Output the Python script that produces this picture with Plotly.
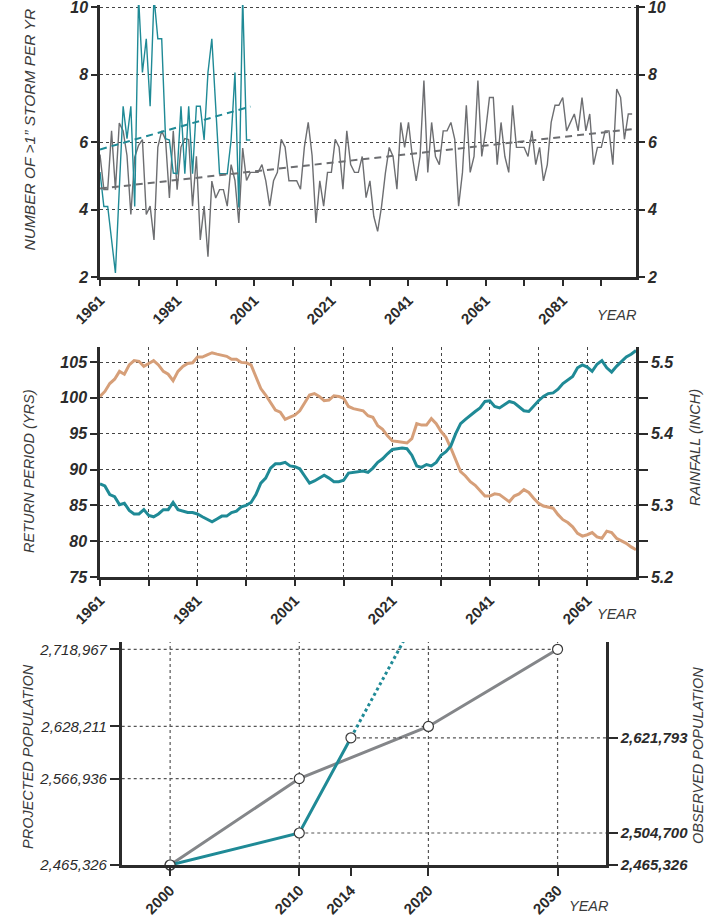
import plotly.graph_objects as go

# ---------------- DATA ----------------
# Panel 1: number of >1" storms per year
storm_obs_start = 1961
storm_obs = [5.11, 4.09, 4.09, 3.10, 2.12, 4.60, 7.06, 6.10, 7.06, 4.09,
             10.3, 8.06, 9.06, 7.06, 10.3, 9.06, 9.06, 6.10, 6.06, 5.08,
             5.06, 7.06, 5.06, 7.06, 5.06, 7.06, 7.06, 6.06, 8.06, 9.06,
             7.06, 5.06, 5.06, 5.06, 6.06, 8.06, 4.06, 10.3, 6.06, 6.06]
storm_model_start = 1961
storm_model = [5.63, 4.59, 4.59, 6.33, 4.59, 6.56, 6.33, 5.60, 3.85, 5.55,
               5.90, 6.07, 3.85, 4.10, 3.10, 5.85, 6.33, 6.07, 4.34, 6.33,
               4.59, 5.85, 6.10, 6.07, 4.10, 5.58, 3.10, 4.10, 2.60, 4.84,
               4.34, 4.59, 4.59, 4.10, 5.33, 4.86, 3.60, 5.82, 4.86, 5.10,
               5.10, 5.10, 5.33, 4.85, 4.10, 4.85, 5.10, 6.08, 5.85, 4.85,
               4.85, 4.85, 4.60, 5.85, 6.58, 5.60, 3.60, 4.85, 4.10, 5.10,
               5.10, 6.08, 5.85, 4.60, 6.33, 5.33, 5.10, 5.10, 5.57, 4.35,
               4.85, 3.80, 3.35, 4.08, 5.07, 5.84, 5.57, 4.60, 6.58, 5.84,
               6.58, 5.57, 4.85, 5.57, 7.82, 5.10, 6.58, 5.57, 5.33, 6.33,
               6.33, 6.58, 6.08, 4.10, 5.10, 7.09, 5.10, 5.57, 7.82, 5.57,
               6.33, 7.32, 7.32, 5.33, 6.58, 5.57, 5.10, 7.09, 5.84, 5.84,
               5.84, 5.57, 6.33, 5.33, 5.84, 4.85, 5.33, 6.58, 7.09, 7.09,
               7.32, 6.33, 6.58, 6.83, 6.33, 7.32, 6.33, 6.83, 5.33, 5.84,
               5.84, 6.33, 6.33, 5.33, 7.57, 7.32, 6.08, 6.83, 6.83]
storm_obs_trend_years = [1961, 2000]
storm_obs_trend = [5.78, 7.05]
storm_model_trend_years = [1961, 2099]
storm_model_trend = [4.62, 6.38]
storm_ticks = [2, 4, 6, 8, 10]

# Panel 2: return period (yrs) and rainfall (inch)
rp_start = 1961
return_period = [100.2, 100.9, 102.0, 102.6, 103.7, 103.3, 104.6, 105.2, 105.1, 104.4,
                 104.8, 105.2, 104.6, 103.7, 103.3, 102.4, 103.7, 104.4, 104.8, 104.9,
                 105.7, 105.7, 106.0, 106.3, 106.1, 105.9, 105.8, 105.4, 105.4, 104.95,
                 104.9, 104.6, 103.0, 101.3, 100.4, 99.3, 98.3, 98.0, 97.0, 97.3,
                 97.6, 98.2, 99.35, 100.4, 100.6, 100.2, 99.6, 99.7, 100.3, 100.2,
                 99.95, 98.8, 98.5, 98.3, 98.2, 97.5, 97.3, 96.1, 95.6, 94.7,
                 94.0, 93.9, 93.8, 93.7, 94.3, 96.4, 96.2, 96.2, 97.1, 96.4,
                 95.3, 94.5, 93.0, 91.4, 89.7, 89.1, 88.3, 87.8, 87.1, 86.3,
                 86.3, 86.6, 86.5, 86.0, 85.5, 86.3, 86.6, 87.2, 86.8, 86.0,
                 85.3, 84.9, 84.8, 84.6, 83.7, 83.0, 82.6, 82.0, 81.1, 80.7,
                 80.9, 81.2, 80.6, 80.4, 81.4, 81.2, 80.4, 80.1, 79.7, 79.2,
                 78.8]
rainfall = [5.330, 5.327, 5.315, 5.312, 5.301, 5.303, 5.293, 5.288, 5.288, 5.294,
            5.286, 5.284, 5.288, 5.294, 5.294, 5.304, 5.294, 5.292, 5.290, 5.290,
            5.288, 5.284, 5.281, 5.277, 5.281, 5.285, 5.285, 5.290, 5.292, 5.298,
            5.300, 5.304, 5.315, 5.331, 5.338, 5.352, 5.358, 5.358, 5.360, 5.355,
            5.354, 5.351, 5.341, 5.331, 5.334, 5.338, 5.342, 5.338, 5.333, 5.333,
            5.335, 5.345, 5.346, 5.348, 5.348, 5.346, 5.352, 5.360, 5.365, 5.372,
            5.378, 5.379, 5.380, 5.379, 5.370, 5.355, 5.353, 5.357, 5.355, 5.360,
            5.370, 5.375, 5.383, 5.400, 5.414, 5.420, 5.426, 5.431, 5.436, 5.445,
            5.446, 5.438, 5.436, 5.440, 5.445, 5.443, 5.437, 5.432, 5.431, 5.439,
            5.446, 5.452, 5.456, 5.457, 5.462, 5.470, 5.475, 5.480, 5.492, 5.496,
            5.493, 5.487, 5.497, 5.502, 5.492, 5.486, 5.494, 5.501, 5.507, 5.511,
            5.516]
rp_ticks = [75, 80, 85, 90, 95, 100, 105]
rain_ticks = [5.2, 5.25, 5.3, 5.35, 5.4, 5.45, 5.5]

# Panel 3: population
proj_years = [2000, 2010, 2020, 2030]
proj_pop = [2465326, 2566936, 2628211, 2718967]
obs_years = [2000, 2010, 2014]
obs_pop = [2465326, 2504700, 2621793]
obs_trend_years = [2014, 2020]
obs_trend_pop = [2621793, 2797000]
pop_xticks = [2000, 2010, 2014, 2020, 2030]

# ---------------- STYLE ----------------
W, H = 708, 917
TEAL = "#1f8a96"
GRAY1 = "#6d6e71"
GRAY3 = "#848689"
TAN = "#d69f79"
AX = "#2b2b2b"
GRID = "#444444"
FONT = "Liberation Sans, Arial, Helvetica, sans-serif"


def fx(p):
    return p / W


def fy(p):
    return 1 - p / H


years_obs = list(range(storm_obs_start, storm_obs_start + len(storm_obs)))
years_model = list(range(storm_model_start, storm_model_start + len(storm_model)))
years_rp = list(range(rp_start, rp_start + len(return_period)))

fig = go.Figure()

# Panel 1
fig.add_trace(go.Scatter(x=years_model, y=storm_model, mode="lines",
                         line=dict(color=GRAY1, width=1.4), xaxis="x", yaxis="y"))
fig.add_trace(go.Scatter(x=years_obs, y=storm_obs, mode="lines",
                         line=dict(color=TEAL, width=1.4), xaxis="x", yaxis="y"))
fig.add_trace(go.Scatter(x=storm_model_trend_years, y=storm_model_trend, mode="lines",
                         line=dict(color=GRAY1, width=2, dash="7px,5px"), xaxis="x", yaxis="y2"))
fig.add_trace(go.Scatter(x=storm_obs_trend_years, y=storm_obs_trend, mode="lines",
                         line=dict(color=TEAL, width=2, dash="7px,5px"), xaxis="x", yaxis="y2"))

# Panel 2
fig.add_trace(go.Scatter(x=years_rp, y=return_period, mode="lines",
                         line=dict(color=TAN, width=3), xaxis="x2", yaxis="y3"))
fig.add_trace(go.Scatter(x=years_rp, y=rainfall, mode="lines",
                         line=dict(color=TEAL, width=3), xaxis="x2", yaxis="y4"))

# Panel 3
x3_range = [1996.25, 2033.75]
for yr, pop in zip(proj_years[1:], proj_pop[1:]):
    fig.add_trace(go.Scatter(x=[x3_range[0], yr], y=[pop, pop], mode="lines",
                             line=dict(color="#555555", width=1.2, dash="dot"),
                             xaxis="x3", yaxis="y5"))
for yr, pop in zip(obs_years[1:], obs_pop[1:]):
    fig.add_trace(go.Scatter(x=[yr, x3_range[1]], y=[pop, pop], mode="lines",
                             line=dict(color="#555555", width=1.2, dash="dot"),
                             xaxis="x3", yaxis="y6"))
marker_style = dict(size=10, color="white", line=dict(color="#3a3a3a", width=1.2))
fig.add_trace(go.Scatter(x=proj_years, y=proj_pop, mode="lines+markers",
                         line=dict(color=GRAY3, width=3), marker=marker_style,
                         cliponaxis=False, xaxis="x3", yaxis="y5"))
fig.add_trace(go.Scatter(x=obs_trend_years, y=obs_trend_pop, mode="lines",
                         line=dict(color=TEAL, width=3, dash="dot"),
                         xaxis="x3", yaxis="y6"))
fig.add_trace(go.Scatter(x=obs_years, y=obs_pop, mode="lines+markers",
                         line=dict(color=TEAL, width=3), marker=marker_style,
                         cliponaxis=False, xaxis="x3", yaxis="y6"))

shapes = []
for yr in proj_years:
    shapes.append(dict(type="line", xref="x3", yref="y5 domain", x0=yr, x1=yr, y0=0, y1=1,
                       line=dict(color="#555555", width=1.2, dash="dot"), layer="below"))

common_axis = dict(showline=True, linecolor=AX, linewidth=2.5, ticks="outside",
                   tickcolor=AX, tickwidth=2, zeroline=False, automargin=False,
                   ticklabeloverflow="allow")

xfont = dict(family=FONT, size=15, color=AX, weight="bold")
bi16 = dict(family=FONT, size=16, color=AX, weight="bold", style="italic")
bi15 = dict(family=FONT, size=15, color=AX, weight="bold", style="italic")

x1_ticks = list(range(1961, 2100, 10))
x2_ticks = list(range(1961, 2071, 10))

fig.update_layout(
    width=W, height=H, margin=dict(l=0, r=0, t=0, b=0),
    template="none", showlegend=False,
    paper_bgcolor="white", plot_bgcolor="white",
    font=dict(family=FONT, color=AX),
    shapes=shapes,
    xaxis=dict(domain=[fx(100), fx(636)], anchor="y", range=[1961, 2100],
               tickvals=x1_ticks,
               ticktext=[str(v) if (v - 1961) % 20 == 0 else "" for v in x1_ticks],
               tickangle=-45, ticklen=6, showgrid=False, tickfont=xfont, **common_axis),
    yaxis=dict(domain=[fy(277), fy(5)], anchor="x", range=[2, 10.06],
               tickvals=storm_ticks, ticklen=6,
               showgrid=True, gridcolor=GRID, gridwidth=1, griddash="dot",
               tickfont=bi16, **common_axis),
    yaxis2=dict(overlaying="y", side="right", anchor="x", range=[2, 10.06],
                tickvals=storm_ticks, ticklen=6, showgrid=False,
                tickfont=bi16, **common_axis),
    xaxis2=dict(domain=[fx(100), fx(636)], anchor="y3", range=[1961, 2071],
                tickvals=x2_ticks,
                ticktext=[str(v) if (v - 1961) % 20 == 0 else "" for v in x2_ticks],
                tickangle=-45, ticklen=6, showgrid=True, gridcolor=GRID, gridwidth=1,
                griddash="dot", tickfont=xfont, **common_axis),
    yaxis3=dict(domain=[fy(577), fy(347)], anchor="x2", range=[75, 107.1],
                tickvals=rp_ticks, ticklen=7,
                showgrid=True, gridcolor=GRID, gridwidth=1, griddash="dot",
                tickfont=bi16, **common_axis),
    yaxis4=dict(overlaying="y3", side="right", anchor="x2", range=[5.2, 5.521],
                tickvals=rain_ticks,
                ticktext=[("%.1f" % v) if abs(v * 10 - round(v * 10)) < 1e-6 else "" for v in rain_ticks],
                ticklen=9, showgrid=False, tickfont=bi16, **common_axis),
    xaxis3=dict(domain=[fx(121.7), fx(606)], anchor="y5", range=x3_range,
                tickvals=pop_xticks, ticktext=[str(v) for v in pop_xticks],
                tickangle=-45, ticklen=8, showgrid=False, tickfont=xfont, **common_axis),
    yaxis5=dict(domain=[fy(865), fy(642)], anchor="x3", range=[2465326, 2727540],
                tickvals=proj_pop, ticktext=["{:,}".format(v) for v in proj_pop],
                ticklen=9, showgrid=False,
                tickfont=dict(family=FONT, size=15, color=AX, style="italic"),
                **common_axis),
    yaxis6=dict(overlaying="y5", side="right", anchor="x3", range=[2465326, 2739600],
                tickvals=obs_pop, ticktext=["{:,}".format(v) for v in obs_pop],
                ticklen=9, showgrid=False, tickfont=bi15, **common_axis),
)

title_font = dict(family=FONT, size=15.5, color="#3a3a3a", style="italic")
title_font2 = dict(family=FONT, size=14.5, color="#3a3a3a", style="italic")
ann = [
    dict(text="NUMBER OF >1” STORM PER YR", x=fx(29), y=fy(129.5), textangle=-90, font=title_font),
    dict(text="RETURN PERIOD (YRS)", x=fx(29), y=fy(471), textangle=-90, font=title_font2),
    dict(text="RAINFALL (INCH)", x=fx(695), y=fy(448), textangle=-90, font=title_font2),
    dict(text="PROJECTED POPULATION", x=fx(28), y=fy(757), textangle=-90, font=title_font2),
    dict(text="OBSERVED POPULATION", x=fx(698), y=fy(756), textangle=-90, font=title_font2),
    dict(text="YEAR", x=fx(617), y=fy(315), font=title_font2),
    dict(text="YEAR", x=fx(617), y=fy(613.5), font=title_font2),
    dict(text="YEAR", x=fx(589), y=fy(905.5), font=title_font2),
]
for a in ann:
    a.update(xref="paper", yref="paper", showarrow=False, xanchor="center", yanchor="middle")
fig.update_layout(annotations=ann)

fig.write_html("out.html")
